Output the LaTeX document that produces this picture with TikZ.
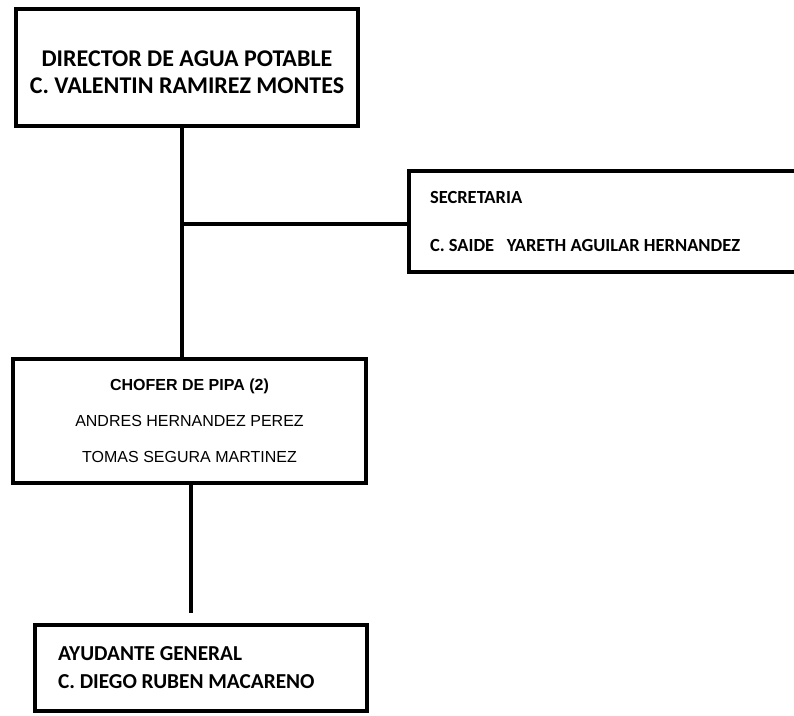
\documentclass[tikz,border=0pt]{standalone}
\usepackage{fontspec}
\setmainfont{Carlito}
\newfontfamily\arialfont{Liberation Sans}
\usetikzlibrary{positioning}

\begin{document}
\begin{tikzpicture}[
    x=1pt, y=-1pt,
    orgbox/.style={draw, line width=4pt, inner sep=0pt},
    link/.style={line width=4pt}
]
    \useasboundingbox (0,0) rectangle (794,715);

    \node[orgbox, minimum width=342pt, minimum height=117pt, align=center,
          font=\fontsize{24}{27}\selectfont\bfseries] (director) at (187,67.5)
          {\rule{0pt}{26pt}DIRECTOR DE AGUA POTABLE\\C. VALENTIN RAMIREZ MONTES};
    \node[orgbox, minimum height=101pt, inner xsep=21pt, text width=348pt, align=flush left,
          font=\fontsize{18.5}{48}\selectfont\bfseries] (secretaria) at (604,221.5)
          {SECRETARIA\\C. SAIDE\ \ \ YARETH AGUILAR HERNANDEZ};
    \node[orgbox, minimum width=353pt, minimum height=124pt, align=center,
          font=\arialfont\fontsize{16}{36}\selectfont] (chofer) at (189.5,421)
          {\textbf{CHOFER DE PIPA (2)}\\ANDRES HERNANDEZ PEREZ\\TOMAS SEGURA MARTINEZ};
    \node[orgbox, minimum height=86pt, inner xsep=23pt, text width=286pt, align=flush left,
          font=\fontsize{21.3}{28}\selectfont\bfseries] (ayudante) at (201,668)
          {AYUDANTE GENERAL\\C. DIEGO RUBEN MACARENO};

    % connectors
    \coordinate (junction) at (182,224);
    \coordinate (drop) at (191,0);
    \draw[link] (director.south -| junction) -- (chofer.north -| junction);
    \draw[link] (junction) -- (junction -| secretaria.west);
    \draw[link, shorten >=10pt] (chofer.south -| drop) -- (ayudante.north -| drop);
\end{tikzpicture}
\end{document}
